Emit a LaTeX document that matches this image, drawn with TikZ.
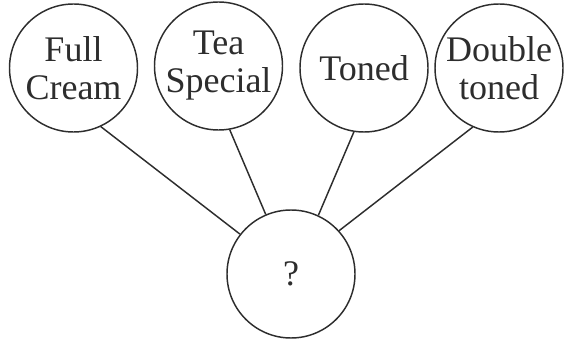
\documentclass[tikz,border=0pt]{standalone}
\usepackage{fontspec}
\setmainfont{Liberation Serif}
\usepackage{xcolor}

\definecolor{inkgray}{RGB}{45,45,45}

\tikzset{
  milkcirc/.style={draw=inkgray, circle, line width=1.1pt, minimum size=96pt, inner sep=0pt,
    text=inkgray, align=center, font=\fontsize{27}{28.5}\selectfont},
  milkline/.style={draw=inkgray, line width=1.1pt}
}

\begin{document}
\begin{tikzpicture}[x=0.75pt,y=0.75pt,yscale=-1,xscale=1]
%set diagram left start at 0, and has height of 342
\useasboundingbox (0,0) rectangle (564,342);

% Shape: Circle [top row]
\node [milkcirc] (fullcream) at (73.5,68) {Full\\Cream};
\node [milkcirc] (teaspecial) at (218.5,66) {Tea\\Special};
\node [milkcirc] (toned) at (364,68) {Toned};
\node [milkcirc] (dbltoned) at (499,68) {Double\\toned};
% Shape: Circle [bottom]
\node [milkcirc] (unknown) at (291,274) {?};

%Straight Lines
\draw [milkline] (fullcream.-65) -- (unknown.142) ;
\draw [milkline] (teaspecial.-80) -- (unknown.113) ;
\draw [milkline] (toned.-99) -- (unknown.65) ;
\draw [milkline] (dbltoned.-114) -- (unknown.42) ;

\end{tikzpicture}
\end{document}
